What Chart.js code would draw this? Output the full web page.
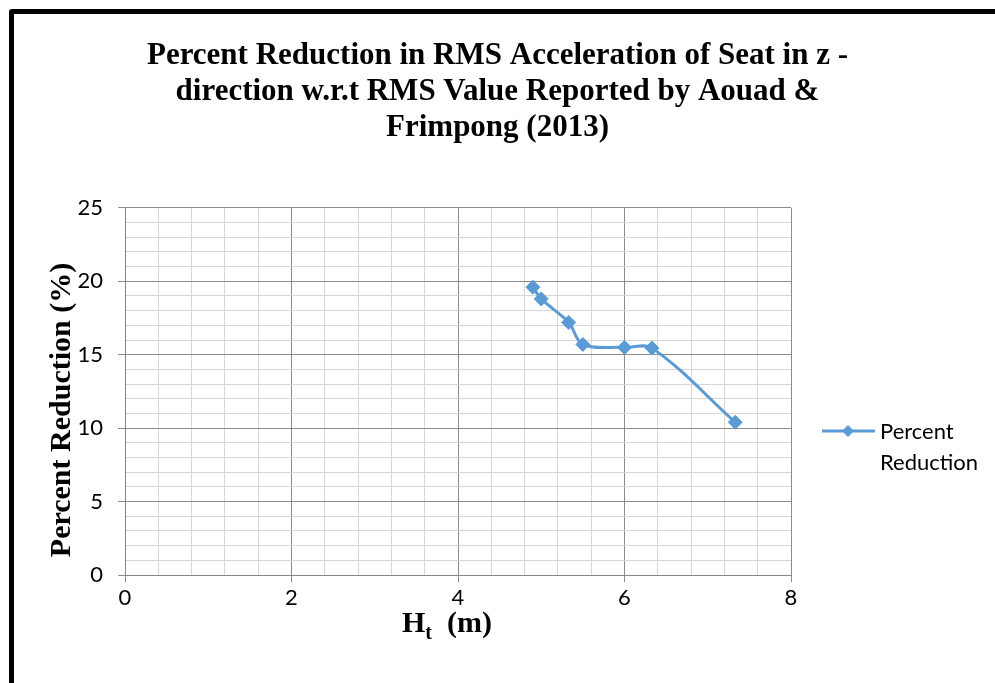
<!DOCTYPE html>
<html lang="en">
<head>
<meta charset="UTF-8">
<title>Percent Reduction in RMS Acceleration</title>
<script src="https://cdn.jsdelivr.net/npm/chart.js"></script>
<style>
    html, body {
        margin: 0;
        width: 995px;
        height: 683px;
        overflow: hidden;
        background: #fff;
    }
    .frame {
        position: absolute;
        left: 9px;
        top: 9px;
        width: 1100px;
        height: 800px;
        border: 5px solid #000;
        border-radius: 3px;
    }
    #chart {
        position: absolute;
        left: 0;
        top: 0;
    }
</style>
</head>
<body>
<div class="frame"></div>
<canvas id="chart" width="995" height="683"></canvas>
<script>
    // data
    const heights = [4.9, 5.0, 5.33, 5.5, 6.0, 6.33, 7.33];
    const reductions = [19.6, 18.8, 17.2, 15.7, 15.5, 15.45, 10.4];
    const seriesName = 'Percent Reduction';

    const titleLines = [
        'Percent Reduction in RMS Acceleration of Seat in z -',
        'direction w.r.t RMS Value Reported by Aouad &',
        'Frimpong (2013)'
    ];
    const yTitle = 'Percent Reduction (%)';

    // axis ranges: major (labelled) and minor steps
    const xRange = [0, 8], xMajor = 2, xMinor = 0.4;
    const yRange = [0, 25], yMajor = 5, yMinor = 1;

    const blue = '#5b9bd5';
    const majorGrid = '#8c8c8c';
    const minorGrid = '#d6d6d6';
    const tickFont = { family: 'Lato', size: 22 };

    function buildTicks(range, step) {
        const out = [];
        const n = Math.round((range[1] - range[0]) / step);
        for (let i = 0; i <= n; i++) {
            out.push({ value: Math.round((range[0] + i * step) * 1000) / 1000 });
        }
        return out;
    }

    function isMajor(v, major) {
        return Math.abs(v / major - Math.round(v / major)) < 1e-6;
    }

    // legend at the right, label split over two lines, plus the axis titles
    const extras = {
        id: 'extras',
        afterDraw(chart) {
            const ctx = chart.ctx;
            ctx.save();

            // legend
            const ly = 431;
            ctx.strokeStyle = blue;
            ctx.lineWidth = 3;
            ctx.beginPath();
            ctx.moveTo(822, ly);
            ctx.lineTo(875, ly);
            ctx.stroke();
            ctx.fillStyle = blue;
            ctx.beginPath();
            ctx.moveTo(848, ly - 6);
            ctx.lineTo(854, ly);
            ctx.lineTo(848, ly + 6);
            ctx.lineTo(842, ly);
            ctx.closePath();
            ctx.fill();
            ctx.fillStyle = '#000';
            ctx.font = '22px Lato';
            ctx.textAlign = 'left';
            ctx.textBaseline = 'middle';
            seriesName.split(' ').forEach((w, i) => ctx.fillText(w, 880, ly + 1 + i * 31));

            // y axis title
            ctx.save();
            ctx.translate(62, 410);
            ctx.rotate(-Math.PI / 2);
            ctx.font = 'bold 30px "Liberation Serif"';
            ctx.textAlign = 'center';
            ctx.textBaseline = 'middle';
            ctx.fillText(yTitle, 0, 0);
            ctx.restore();

            // x axis title with subscript
            const big = 'bold 30px "Liberation Serif"';
            const small = 'bold 20px "Liberation Serif"';
            ctx.textBaseline = 'alphabetic';
            ctx.font = big;
            const wH = ctx.measureText('H').width;
            const wRest = ctx.measureText('  (m)').width;
            ctx.font = small;
            const wt = ctx.measureText('t').width;
            let x = 447 - (wH + wt + wRest) / 2;
            const base = 632;
            ctx.font = big;
            ctx.fillText('H', x, base);
            x += wH;
            ctx.font = small;
            ctx.fillText('t', x, base + 7);
            x += wt;
            ctx.font = big;
            ctx.fillText('  (m)', x, base);

            ctx.restore();
        }
    };

    new Chart(document.getElementById('chart'), {
        type: 'line',
        data: {
            datasets: [{
                label: seriesName,
                data: heights.map((h, i) => ({ x: h, y: reductions[i] })),
                borderColor: blue,
                backgroundColor: blue,
                borderWidth: 3,
                tension: 0.35,
                pointStyle: 'rectRot',
                pointRadius: 7,
                pointBorderWidth: 1,
                pointBackgroundColor: blue,
                pointBorderColor: blue
            }]
        },
        options: {
            responsive: false,
            animation: false,
            layout: { padding: 0 },
            plugins: {
                legend: { display: false },
                tooltip: { enabled: false },
                title: {
                    display: true,
                    text: titleLines,
                    color: '#000',
                    font: { family: 'Liberation Serif', size: 31, weight: 'bold', lineHeight: 1.16 },
                    padding: { top: 38, bottom: 62 }
                }
            },
            scales: {
                x: {
                    type: 'linear',
                    min: xRange[0],
                    max: xRange[1],
                    afterBuildTicks: s => { s.ticks = buildTicks(xRange, xMinor); },
                    afterFit: s => { s.height = 108; },
                    border: { color: '#868686', width: 1 },
                    grid: {
                        color: c => isMajor(c.tick.value, xMajor) ? majorGrid : minorGrid,
                        tickColor: c => isMajor(c.tick.value, xMajor) ? majorGrid : 'rgba(0,0,0,0)',
                        tickLength: 7
                    },
                    ticks: {
                        autoSkip: false,
                        maxRotation: 0,
                        padding: 3,
                        color: '#000',
                        font: tickFont,
                        callback: v => isMajor(v, xMajor) ? String(Math.round(v)) : ''
                    }
                },
                y: {
                    min: yRange[0],
                    max: yRange[1],
                    afterBuildTicks: s => { s.ticks = buildTicks(yRange, yMinor); },
                    afterFit: s => { s.width = 125; },
                    border: { color: '#868686', width: 1 },
                    grid: {
                        color: c => isMajor(c.tick.value, yMajor) ? majorGrid : minorGrid,
                        tickColor: c => isMajor(c.tick.value, yMajor) ? majorGrid : 'rgba(0,0,0,0)',
                        tickLength: 7
                    },
                    ticks: {
                        autoSkip: false,
                        padding: 15,
                        color: '#000',
                        font: tickFont,
                        callback: v => isMajor(v, yMajor) ? String(Math.round(v)) : ''
                    }
                },
                // empty right-hand box that keeps room for the legend
                legendSpace: {
                    position: 'right',
                    afterFit: s => { s.width = 204; },
                    grid: { display: false },
                    border: { display: false },
                    ticks: { display: false }
                }
            }
        },
        plugins: [extras]
    });
</script>
</body>
</html>
